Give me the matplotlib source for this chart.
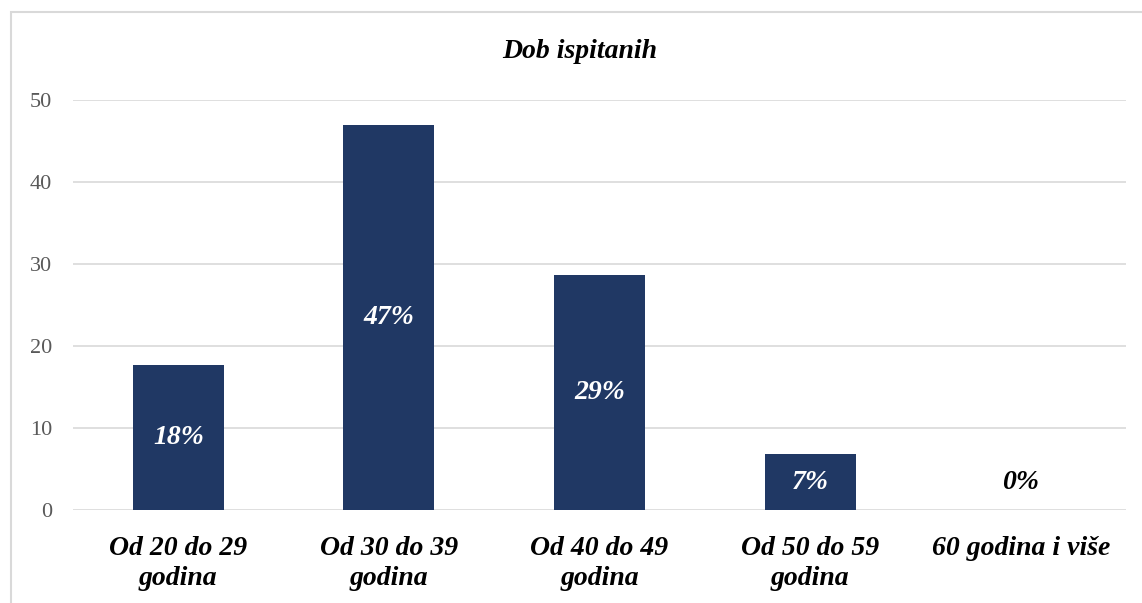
import matplotlib.pyplot as plt
from matplotlib.patches import Rectangle

# ---- Data ----
categories = ['Od 20 do 29\ngodina', 'Od 30 do 39\ngodina', 'Od 40 do 49\ngodina',
              'Od 50 do 59\ngodina', '60 godina i više']
values     = [17.7, 46.9, 28.7, 6.8, 0.0]
labels     = ['18%', '47%', '29%', '7%', '0%']
y_ticks    = [0, 10, 20, 30, 40, 50]

bar_color  = '#203864'
grid_color = '#d9d9d9'

plt.rcParams['font.family'] = ['Liberation Serif', 'DejaVu Serif']

fig = plt.figure(figsize=(11.42, 6.03), dpi=100)
ax  = fig.add_axes([73 / 1142, 1 - 510 / 603, 1053 / 1142, 410 / 603])

x = list(range(len(categories)))
ax.bar(x, values, width=0.433, color=bar_color, zorder=3)

# value labels inside bars
for xi, v, lab in zip(x, values, labels):
    colour = 'white' if v > 0 else 'black'
    ax.text(xi, max(v / 2, 3.3), lab, ha='center', va='center',
            fontsize=20, fontweight='bold', fontstyle='italic', color=colour, zorder=4)

ax.set_xlim(-0.5, len(categories) - 0.5)
ax.set_ylim(0, 50)
ax.set_yticks(y_ticks)
ax.set_xticks(x)
ax.set_xticklabels(categories, fontsize=20, fontweight='bold', fontstyle='italic',
                   linespacing=1.25)
ax.tick_params(axis='x', length=0, pad=19)
ax.tick_params(axis='y', length=0, pad=15, labelsize=16, labelcolor='#595959')

ax.grid(axis='y', color=grid_color, linewidth=1.2, zorder=0)
for side in ['top', 'right', 'left', 'bottom']:
    ax.spines[side].set_visible(False)

fig.text(0.508, 1 - 52 / 603, 'Dob ispitanih', ha='center', va='center',
         fontsize=20, fontweight='bold', fontstyle='italic')

# chart frame
fig.patches.append(Rectangle((11 / 1142, -0.05), 1.1, 1 - 12 / 603 + 0.05,
                             transform=fig.transFigure, fill=False,
                             edgecolor=grid_color, linewidth=1.5))

fig.savefig('out.png', dpi=100)
